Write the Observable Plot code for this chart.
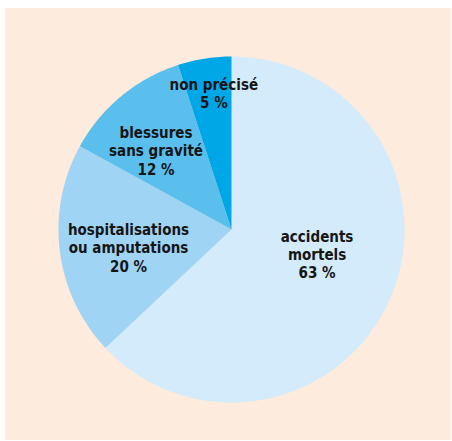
<!DOCTYPE html>
<html>
<head>
<meta charset="utf-8">
<script src="https://cdn.jsdelivr.net/npm/d3@7"></script>
<script src="https://cdn.jsdelivr.net/npm/@observablehq/plot@0.6"></script>
<style>
  html, body { margin: 0; padding: 0; background: #ffffff; }
  #frame { position: absolute; left: 5px; top: 8px; width: 446px; height: 432px; background: #fdebdd; }
  #frame svg { display: block; }
</style>
</head>
<body>
<div id="frame"></div>
<script>
// Data
const categories = ["accidents mortels", "hospitalisations ou amputations", "blessures sans gravité", "non précisé"];
const labelLines = [["accidents", "mortels"], ["hospitalisations", "ou amputations"], ["blessures", "sans gravité"], ["non précisé"]];
const values = [63, 20, 12, 5];

// Styles / layout
const colors = ["#d3ebfa", "#a0d4f5", "#5bbfee", "#00a7e7"];
const labelRadius = [0.52, 0.6, 0.63, 0.8];
const labelDx = [3, 0, -6, 4];
const labelDy = [-11, 5, 5, 0];

const arcs = d3.pie().sort(null).value(d => d)(values);

const slices = arcs.map((a, i) => {
  const pts = [{x: 0, y: 0}];
  const n = Math.max(4, Math.ceil((a.endAngle - a.startAngle) / (Math.PI / 180)));
  for (let k = 0; k <= n; k++) {
    const t = a.startAngle + (a.endAngle - a.startAngle) * k / n;
    pts.push({x: Math.sin(t), y: Math.cos(t)});
  }
  pts.push({x: 0, y: 0});
  return pts;
});

const labels = arcs.map((a, i) => {
  const m = (a.startAngle + a.endAngle) / 2;
  return {
    x: Math.sin(m) * labelRadius[i],
    y: Math.cos(m) * labelRadius[i],
    text: [...labelLines[i], values[i] + " %"].join("\n"),
    i
  };
});

const cx = 226, cy = 221, r = 173;

const plot = Plot.plot({
  width: 446,
  height: 432,
  margin: 0,
  style: {background: "transparent", fontFamily: "'Liberation Sans Narrow', 'DejaVu Sans Condensed', 'Roboto Condensed', sans-serif"},
  x: {domain: [-1, 1], range: [cx - r, cx + r], axis: null},
  y: {domain: [-1, 1], range: [cy + r, cy - r], axis: null},
  marks: [
    ...slices.map((pts, i) => Plot.line(pts, {x: "x", y: "y", fill: colors[i], stroke: "none", curve: "linear"})),
    ...labels.map(l => Plot.text([l], {
      x: "x", y: "y", text: "text",
      dx: labelDx[l.i], dy: labelDy[l.i],
      fontSize: 15, fontWeight: "bold", lineHeight: 1.22,
      fill: "#151515", textAnchor: "middle"
    }))
  ]
});

document.getElementById("frame").appendChild(plot);
</script>
</body>
</html>
